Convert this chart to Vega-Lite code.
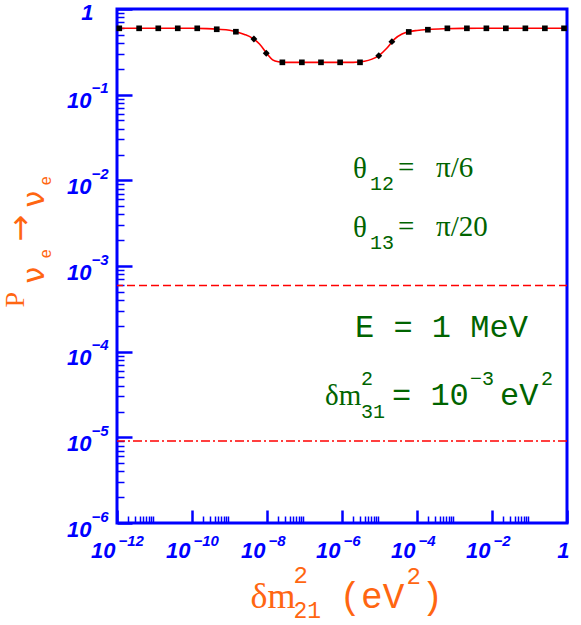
{
  "$schema": "https://vega.github.io/schema/vega-lite/v6.json",
  "width": 450,
  "height": 514,
  "autosize": "none",
  "padding": {"left": 117, "top": 9, "right": 14, "bottom": 102},
  "background": "white",
  "config": {
    "view": {"stroke": "#0000ff", "strokeWidth": 3},
    "axis": {"grid": false, "domain": false, "labelFlush": false, "labelOverlap": false, "labelBound": false, "tickColor": "#0000ff", "labelColor": "#0000ff", "titleColor": "#ff6611", "titleFontWeight": "normal"}
  },
  "datasets": {
    "curve": [
      {"x": 1e-12, "p": 0.5954}, {"x": 1e-11, "p": 0.5954}, {"x": 1e-10, "p": 0.595},
      {"x": 2.512e-10, "p": 0.59}, {"x": 5.012e-10, "p": 0.58}, {"x": 1e-9, "p": 0.565},
      {"x": 1.585e-9, "p": 0.54}, {"x": 2.512e-9, "p": 0.505}, {"x": 3.981e-9, "p": 0.46},
      {"x": 6.31e-9, "p": 0.39}, {"x": 1e-8, "p": 0.3}, {"x": 1.413e-8, "p": 0.255},
      {"x": 1.995e-8, "p": 0.242}, {"x": 3.162e-8, "p": 0.2385}, {"x": 3.162e-7, "p": 0.2385},
      {"x": 1.995e-6, "p": 0.2385}, {"x": 3.981e-6, "p": 0.245}, {"x": 6.31e-6, "p": 0.26},
      {"x": 1e-5, "p": 0.29}, {"x": 1.585e-5, "p": 0.35}, {"x": 2.512e-5, "p": 0.445},
      {"x": 3.981e-5, "p": 0.51}, {"x": 6.31e-5, "p": 0.545}, {"x": 1e-4, "p": 0.562},
      {"x": 1.995e-4, "p": 0.577}, {"x": 5.012e-4, "p": 0.588}, {"x": 1.585e-3, "p": 0.594},
      {"x": 1e-2, "p": 0.5954}, {"x": 1, "p": 0.5954}
    ],
    "squares": [
      {"x": 1.15e-12, "p": 0.595}, {"x": 3.89e-12, "p": 0.595}, {"x": 1.26e-11, "p": 0.595},
      {"x": 4.17e-11, "p": 0.595}, {"x": 1.38e-10, "p": 0.595}, {"x": 4.57e-10, "p": 0.58},
      {"x": 1.48e-9, "p": 0.543}, {"x": 2.57e-8, "p": 0.2385}, {"x": 8.51e-8, "p": 0.2385},
      {"x": 2.75e-7, "p": 0.2385}, {"x": 8.91e-7, "p": 0.2385}, {"x": 3.02e-6, "p": 0.2385},
      {"x": 6.03e-5, "p": 0.54}, {"x": 1.95e-4, "p": 0.573}, {"x": 6.46e-4, "p": 0.595},
      {"x": 2.14e-3, "p": 0.595}, {"x": 7.08e-3, "p": 0.595}, {"x": 2.34e-2, "p": 0.595},
      {"x": 7.76e-2, "p": 0.595}, {"x": 0.257, "p": 0.595}, {"x": 0.832, "p": 0.595}
    ],
    "diamonds": [
      {"x": 4.47e-9, "p": 0.447}, {"x": 9.55e-9, "p": 0.304},
      {"x": 9.55e-6, "p": 0.285}, {"x": 2.14e-5, "p": 0.416}
    ],
    "serif": [
      {"x": 1.965e-6, "p": 1.065e-2, "t": "θ"},
      {"x": 3.113e-5, "p": 1.094e-2, "t": "="},
      {"x": 3.211e-4, "p": 1.094e-2, "t": "π/6"},
      {"x": 1.965e-6, "p": 2.181e-3, "t": "θ"},
      {"x": 3.113e-5, "p": 2.241e-3, "t": "="},
      {"x": 3.211e-4, "p": 2.241e-3, "t": "π/20"},
      {"x": 3.521e-7, "p": 2.385e-5, "t": "δm"}
    ],
    "monosmall": [
      {"x": 5.58e-6, "p": 7.715e-3, "t": "12"},
      {"x": 5.58e-6, "p": 1.58e-3, "t": "13"},
      {"x": 3.211e-6, "p": 4.084e-5, "t": "2"},
      {"x": 3.211e-6, "p": 1.682e-5, "t": "31"},
      {"x": 2.591e-3, "p": 4.084e-5, "t": "−3"},
      {"x": 0.2026, "p": 4.084e-5, "t": "2"}
    ],
    "monobig": [
      {"x": 2.222e-6, "p": 1.484e-4, "t": "E = 1 MeV"},
      {"x": 2.154e-5, "p": 2.385e-5, "t": "= 10"},
      {"x": 1.635e-2, "p": 2.385e-5, "t": "eV"}
    ],
    "levels": [
      {"name": "dashed", "p": 5.94e-4},
      {"name": "dashdot", "p": 9.07e-6}
    ]
  },
  "resolve": {"axis": {"x": "independent", "y": "independent"}},
  "layer": [
    {
      "data": {"name": "curve"},
      "mark": {"type": "line", "color": "#ff0000", "strokeWidth": 1.6, "interpolate": "monotone"},
      "encoding": {
        "x": {"field": "x", "type": "quantitative",
          "scale": {"type": "log", "domain": [1e-12, 1], "nice": false},
          "axis": {"orient": "bottom", "values": [1e-12, 1e-10, 1e-8, 1e-6, 1e-4, 1e-2, 1],
            "labelExpr": "datum.value >= 0.999 ? '1' : '10'",
            "tickSize": -13, "tickWidth": 2.5,
            "labelFont": "Liberation Sans", "labelFontSize": 22, "labelFontWeight": "bold", "labelFontStyle": "italic",
            "labelAlign": "right", "labelBaseline": "alphabetic", "labelPadding": 47,
            "labelOffset": {"condition": {"test": "datum.value >= 0.999", "value": 2}, "value": -2},
            "title": "δm", "titleX": 133, "titleY": 84, "titleAlign": "left", "titleBaseline": "alphabetic",
            "titleFont": "Liberation Serif", "titleFontSize": 36}},
        "y": {"field": "p", "type": "quantitative",
          "scale": {"type": "log", "domain": [1e-6, 1], "nice": false},
          "axis": {"orient": "left", "values": [1e-6, 1e-5, 1e-4, 1e-3, 1e-2, 1e-1, 1],
            "labelExpr": "datum.value >= 0.999 ? '1' : '10'",
            "tickSize": -15, "tickWidth": 2.5,
            "labelFont": "Liberation Sans", "labelFontSize": 22, "labelFontWeight": "bold", "labelFontStyle": "italic",
            "labelAlign": "right", "labelBaseline": "middle",
            "labelPadding": {"condition": {"test": "datum.value >= 0.999", "value": 39}, "value": 41},
            "labelOffset": {"condition": {"test": "datum.value >= 0.999", "value": 3}, "value": 6},
            "title": "P", "titleX": -94, "titleY": 298, "titleAngle": 270, "titleAlign": "left", "titleBaseline": "alphabetic",
            "titleFont": "Liberation Serif", "titleFontSize": 28}}
      }
    },
    {
      "data": {"name": "squares"},
      "mark": {"type": "point", "shape": "square", "filled": true, "color": "#000000", "size": 32, "opacity": 1},
      "encoding": {
        "x": {"field": "x", "type": "quantitative",
          "scale": {"type": "log", "domain": [1e-12, 1], "nice": false},
          "axis": {"orient": "bottom", "values": [1e-12, 1e-10, 1e-8, 1e-6, 1e-4, 1e-2],
            "labelExpr": "'−' + round(-log(datum.value) / LN10)",
            "tickSize": -13, "tickOpacity": 0,
            "labelFont": "Liberation Sans", "labelFontSize": 15, "labelFontWeight": "bold", "labelFontStyle": "italic",
            "labelAlign": "left", "labelBaseline": "alphabetic", "labelPadding": 35, "labelOffset": 1,
            "title": "2", "titleX": 176, "titleY": 59, "titleAlign": "left", "titleBaseline": "alphabetic",
            "titleFont": "Liberation Mono", "titleFontSize": 24}},
        "y": {"field": "p", "type": "quantitative",
          "scale": {"type": "log", "domain": [1e-6, 1], "nice": false},
          "axis": {"orient": "left", "values": [1e-6, 1e-5, 1e-4, 1e-3, 1e-2, 1e-1],
            "labelExpr": "'−' + round(-log(datum.value) / LN10)",
            "tickSize": -15, "tickOpacity": 0,
            "labelFont": "Liberation Sans", "labelFontSize": 15, "labelFontWeight": "bold", "labelFontStyle": "italic",
            "labelAlign": "left", "labelBaseline": "middle", "labelPadding": 41, "labelOffset": -7,
            "title": "ν", "titleX": -74, "titleY": 274, "titleAngle": 270, "titleAlign": "left", "titleBaseline": "alphabetic",
            "titleFont": "DejaVu Sans", "titleFontSize": 30}}
      }
    },
    {
      "data": {"name": "diamonds"},
      "mark": {"type": "point", "shape": "diamond", "filled": true, "color": "#000000", "size": 48, "opacity": 1},
      "encoding": {
        "x": {"field": "x", "type": "quantitative",
          "scale": {"type": "log", "domain": [1e-12, 1], "nice": false},
          "axis": {"orient": "bottom",
            "values": [2e-12, 3e-12, 4e-12, 5e-12, 6e-12, 7e-12, 8e-12, 9e-12,
                       2e-10, 3e-10, 4e-10, 5e-10, 6e-10, 7e-10, 8e-10, 9e-10,
                       2e-8, 3e-8, 4e-8, 5e-8, 6e-8, 7e-8, 8e-8, 9e-8,
                       2e-6, 3e-6, 4e-6, 5e-6, 6e-6, 7e-6, 8e-6, 9e-6,
                       2e-4, 3e-4, 4e-4, 5e-4, 6e-4, 7e-4, 8e-4, 9e-4,
                       2e-2, 3e-2, 4e-2, 5e-2, 6e-2, 7e-2, 8e-2, 9e-2],
            "labels": false, "tickSize": -7, "tickWidth": 1.5,
            "title": "21", "titleX": 176, "titleY": 94, "titleAlign": "left", "titleBaseline": "alphabetic",
            "titleFont": "Liberation Mono", "titleFontSize": 23}},
        "y": {"field": "p", "type": "quantitative",
          "scale": {"type": "log", "domain": [1e-6, 1], "nice": false},
          "axis": {"orient": "left",
            "values": [2e-6, 3e-6, 4e-6, 5e-6, 6e-6, 7e-6, 8e-6, 9e-6,
                       2e-5, 3e-5, 4e-5, 5e-5, 6e-5, 7e-5, 8e-5, 9e-5,
                       2e-4, 3e-4, 4e-4, 5e-4, 6e-4, 7e-4, 8e-4, 9e-4,
                       2e-3, 3e-3, 4e-3, 5e-3, 6e-3, 7e-3, 8e-3, 9e-3,
                       2e-2, 3e-2, 4e-2, 5e-2, 6e-2, 7e-2, 8e-2, 9e-2,
                       0.2, 0.3, 0.4, 0.5, 0.6, 0.7, 0.8, 0.9],
            "labels": false, "tickSize": -7, "tickWidth": 1.5,
            "title": "e", "titleX": -67, "titleY": 249, "titleAngle": 270, "titleAlign": "left", "titleBaseline": "alphabetic",
            "titleFont": "Liberation Mono", "titleFontSize": 16}}
      }
    },
    {
      "data": {"name": "serif"},
      "mark": {"type": "text", "align": "left", "baseline": "alphabetic", "font": "Liberation Serif", "fontSize": 29, "color": "#006400"},
      "encoding": {
        "text": {"field": "t"},
        "x": {"field": "x", "type": "quantitative",
          "scale": {"type": "log", "domain": [1e-12, 1], "nice": false},
          "axis": {"orient": "bottom", "labels": false, "ticks": false,
            "title": "(eV", "titleX": 222, "titleY": 84, "titleAlign": "left", "titleBaseline": "alphabetic",
            "titleFont": "Liberation Mono", "titleFontSize": 36}},
        "y": {"field": "p", "type": "quantitative",
          "scale": {"type": "log", "domain": [1e-6, 1], "nice": false},
          "axis": {"orient": "left", "labels": false, "ticks": false,
            "title": "→", "titleX": -87, "titleY": 232, "titleAngle": 270, "titleAlign": "left", "titleBaseline": "alphabetic",
            "titleFont": "DejaVu Sans", "titleFontSize": 32}}
      }
    },
    {
      "data": {"name": "monosmall"},
      "mark": {"type": "text", "align": "left", "baseline": "alphabetic", "font": "Liberation Mono", "fontSize": 20, "color": "#006400"},
      "encoding": {
        "text": {"field": "t"},
        "x": {"field": "x", "type": "quantitative",
          "scale": {"type": "log", "domain": [1e-12, 1], "nice": false},
          "axis": {"orient": "bottom", "labels": false, "ticks": false,
            "title": "2", "titleX": 289, "titleY": 60, "titleAlign": "left", "titleBaseline": "alphabetic",
            "titleFont": "Liberation Mono", "titleFontSize": 24}},
        "y": {"field": "p", "type": "quantitative",
          "scale": {"type": "log", "domain": [1e-6, 1], "nice": false},
          "axis": {"orient": "left", "labels": false, "ticks": false,
            "title": "ν", "titleX": -74, "titleY": 198, "titleAngle": 270, "titleAlign": "left", "titleBaseline": "alphabetic",
            "titleFont": "DejaVu Sans", "titleFontSize": 30}}
      }
    },
    {
      "data": {"name": "monobig"},
      "mark": {"type": "text", "align": "left", "baseline": "alphabetic", "font": "Liberation Mono", "fontSize": 32, "color": "#006400"},
      "encoding": {
        "text": {"field": "t"},
        "x": {"field": "x", "type": "quantitative",
          "scale": {"type": "log", "domain": [1e-12, 1], "nice": false},
          "axis": {"orient": "bottom", "labels": false, "ticks": false,
            "title": ")", "titleX": 304, "titleY": 84, "titleAlign": "left", "titleBaseline": "alphabetic",
            "titleFont": "Liberation Mono", "titleFontSize": 36}},
        "y": {"field": "p", "type": "quantitative",
          "scale": {"type": "log", "domain": [1e-6, 1], "nice": false},
          "axis": {"orient": "left", "labels": false, "ticks": false,
            "title": "e", "titleX": -67, "titleY": 176, "titleAngle": 270, "titleAlign": "left", "titleBaseline": "alphabetic",
            "titleFont": "Liberation Mono", "titleFontSize": 16}}
      }
    },
    {
      "data": {"name": "levels"},
      "transform": [{"filter": "datum.name == 'dashed'"}],
      "mark": {"type": "rule", "color": "#ff0000", "strokeWidth": 1.5, "strokeDash": [8, 4]},
      "encoding": {
        "y": {"field": "p", "type": "quantitative",
          "scale": {"type": "log", "domain": [1e-6, 1], "nice": false}, "axis": null}
      }
    },
    {
      "data": {"name": "levels"},
      "transform": [{"filter": "datum.name == 'dashdot'"}],
      "mark": {"type": "rule", "color": "#ff0000", "strokeWidth": 1.5, "strokeDash": [9, 3, 2, 3]},
      "encoding": {
        "y": {"field": "p", "type": "quantitative",
          "scale": {"type": "log", "domain": [1e-6, 1], "nice": false}, "axis": null}
      }
    }
  ]
}
